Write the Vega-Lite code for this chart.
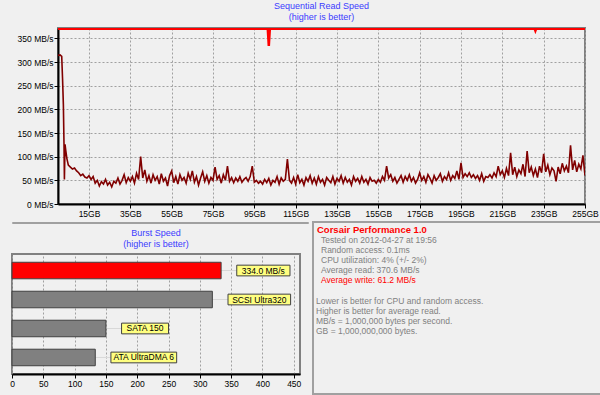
{
  "$schema": "https://vega.github.io/schema/vega-lite/v6.json",
  "background": "#f0f0f0",
  "padding": {"left": 8, "top": 1, "right": 0, "bottom": 0},
  "datasets": {
    "write": [
      {"gb":0,"mbs":314},{"gb":1,"mbs":315},{"gb":1.8,"mbs":312},{"gb":2.2,"mbs":265},{"gb":2.6,"mbs":210},{"gb":2.9,"mbs":128},{"gb":3.1,"mbs":52},{"gb":3.4,"mbs":126},{"gb":3.8,"mbs":112},{"gb":4.3,"mbs":96},{"gb":5,"mbs":82},
      {"gb":6,"mbs":78},{"gb":7,"mbs":74},{"gb":8,"mbs":76},{"gb":9,"mbs":70},{"gb":10,"mbs":66},{"gb":11,"mbs":60},{"gb":12,"mbs":63},{"gb":13,"mbs":57},{"gb":14,"mbs":55},{"gb":15,"mbs":60},
      {"gb":16,"mbs":52},{"gb":17,"mbs":58},{"gb":18,"mbs":44},{"gb":19,"mbs":50},{"gb":20,"mbs":38},{"gb":21,"mbs":47},{"gb":22,"mbs":42},{"gb":23,"mbs":52},{"gb":24,"mbs":40},{"gb":25,"mbs":46},
      {"gb":26,"mbs":36},{"gb":27,"mbs":48},{"gb":28,"mbs":44},{"gb":29,"mbs":55},{"gb":30,"mbs":42},{"gb":31,"mbs":50},{"gb":32,"mbs":62},{"gb":33,"mbs":45},{"gb":34,"mbs":56},{"gb":35,"mbs":48},
      {"gb":36,"mbs":58},{"gb":37,"mbs":44},{"gb":38,"mbs":65},{"gb":39,"mbs":52},{"gb":40,"mbs":100},{"gb":41,"mbs":55},{"gb":42,"mbs":72},{"gb":43,"mbs":48},{"gb":44,"mbs":60},{"gb":45,"mbs":44},
      {"gb":46,"mbs":62},{"gb":47,"mbs":50},{"gb":48,"mbs":58},{"gb":49,"mbs":42},{"gb":50,"mbs":64},{"gb":51,"mbs":48},{"gb":52,"mbs":55},{"gb":53,"mbs":38},{"gb":54,"mbs":60},{"gb":55,"mbs":70},
      {"gb":56,"mbs":45},{"gb":57,"mbs":58},{"gb":58,"mbs":42},{"gb":59,"mbs":62},{"gb":60,"mbs":50},{"gb":61,"mbs":56},{"gb":62,"mbs":44},{"gb":63,"mbs":65},{"gb":64,"mbs":52},{"gb":65,"mbs":70},
      {"gb":66,"mbs":46},{"gb":67,"mbs":58},{"gb":68,"mbs":40},{"gb":69,"mbs":55},{"gb":70,"mbs":68},{"gb":71,"mbs":48},{"gb":72,"mbs":60},{"gb":73,"mbs":44},{"gb":74,"mbs":56},{"gb":75,"mbs":50},
      {"gb":76,"mbs":78},{"gb":77,"mbs":52},{"gb":78,"mbs":60},{"gb":79,"mbs":44},{"gb":80,"mbs":62},{"gb":81,"mbs":50},{"gb":82,"mbs":80},{"gb":83,"mbs":48},{"gb":84,"mbs":56},{"gb":85,"mbs":45},
      {"gb":86,"mbs":55},{"gb":87,"mbs":48},{"gb":88,"mbs":58},{"gb":89,"mbs":46},{"gb":90,"mbs":52},{"gb":91,"mbs":56},{"gb":92,"mbs":48},{"gb":93,"mbs":58},{"gb":94,"mbs":80},{"gb":95,"mbs":46},
      {"gb":96,"mbs":50},{"gb":97,"mbs":44},{"gb":98,"mbs":48},{"gb":99,"mbs":42},{"gb":100,"mbs":52},{"gb":101,"mbs":45},{"gb":102,"mbs":54},{"gb":103,"mbs":40},{"gb":104,"mbs":50},{"gb":105,"mbs":46},
      {"gb":106,"mbs":58},{"gb":107,"mbs":42},{"gb":108,"mbs":55},{"gb":109,"mbs":48},{"gb":110,"mbs":52},{"gb":111,"mbs":95},{"gb":112,"mbs":50},{"gb":113,"mbs":44},{"gb":114,"mbs":56},{"gb":115,"mbs":42},
      {"gb":116,"mbs":62},{"gb":117,"mbs":45},{"gb":118,"mbs":52},{"gb":119,"mbs":40},{"gb":120,"mbs":56},{"gb":121,"mbs":48},{"gb":122,"mbs":60},{"gb":123,"mbs":44},{"gb":124,"mbs":55},{"gb":125,"mbs":42},
      {"gb":126,"mbs":58},{"gb":127,"mbs":46},{"gb":128,"mbs":52},{"gb":129,"mbs":40},{"gb":130,"mbs":56},{"gb":131,"mbs":50},{"gb":132,"mbs":45},{"gb":133,"mbs":58},{"gb":134,"mbs":42},{"gb":135,"mbs":54},
      {"gb":136,"mbs":48},{"gb":137,"mbs":60},{"gb":138,"mbs":44},{"gb":139,"mbs":56},{"gb":140,"mbs":46},{"gb":141,"mbs":52},{"gb":142,"mbs":40},{"gb":143,"mbs":58},{"gb":144,"mbs":48},{"gb":145,"mbs":54},
      {"gb":146,"mbs":44},{"gb":147,"mbs":58},{"gb":148,"mbs":46},{"gb":149,"mbs":52},{"gb":150,"mbs":42},{"gb":151,"mbs":56},{"gb":152,"mbs":48},{"gb":153,"mbs":50},{"gb":154,"mbs":44},{"gb":155,"mbs":52},
      {"gb":156,"mbs":46},{"gb":157,"mbs":58},{"gb":158,"mbs":50},{"gb":159,"mbs":80},{"gb":160,"mbs":55},{"gb":161,"mbs":62},{"gb":162,"mbs":48},{"gb":163,"mbs":56},{"gb":164,"mbs":44},{"gb":165,"mbs":52},
      {"gb":166,"mbs":60},{"gb":167,"mbs":46},{"gb":168,"mbs":58},{"gb":169,"mbs":50},{"gb":170,"mbs":62},{"gb":171,"mbs":48},{"gb":172,"mbs":56},{"gb":173,"mbs":44},{"gb":174,"mbs":52},{"gb":175,"mbs":66},
      {"gb":176,"mbs":50},{"gb":177,"mbs":58},{"gb":178,"mbs":46},{"gb":179,"mbs":62},{"gb":180,"mbs":54},{"gb":181,"mbs":44},{"gb":182,"mbs":60},{"gb":183,"mbs":50},{"gb":184,"mbs":56},{"gb":185,"mbs":64},
      {"gb":186,"mbs":48},{"gb":187,"mbs":58},{"gb":188,"mbs":52},{"gb":189,"mbs":66},{"gb":190,"mbs":50},{"gb":191,"mbs":60},{"gb":192,"mbs":54},{"gb":193,"mbs":70},{"gb":194,"mbs":52},{"gb":195,"mbs":87},
      {"gb":196,"mbs":56},{"gb":197,"mbs":64},{"gb":198,"mbs":58},{"gb":199,"mbs":66},{"gb":200,"mbs":56},{"gb":201,"mbs":62},{"gb":202,"mbs":54},{"gb":203,"mbs":60},{"gb":204,"mbs":50},{"gb":205,"mbs":64},
      {"gb":206,"mbs":48},{"gb":207,"mbs":58},{"gb":208,"mbs":56},{"gb":209,"mbs":62},{"gb":210,"mbs":55},{"gb":211,"mbs":66},{"gb":212,"mbs":58},{"gb":213,"mbs":80},{"gb":214,"mbs":62},{"gb":215,"mbs":70},
      {"gb":216,"mbs":56},{"gb":217,"mbs":75},{"gb":218,"mbs":60},{"gb":219,"mbs":108},{"gb":220,"mbs":62},{"gb":221,"mbs":78},{"gb":222,"mbs":58},{"gb":223,"mbs":72},{"gb":224,"mbs":64},{"gb":225,"mbs":84},
      {"gb":226,"mbs":58},{"gb":227,"mbs":112},{"gb":228,"mbs":66},{"gb":229,"mbs":78},{"gb":230,"mbs":60},{"gb":231,"mbs":74},{"gb":232,"mbs":56},{"gb":233,"mbs":80},{"gb":234,"mbs":66},{"gb":235,"mbs":106},
      {"gb":236,"mbs":68},{"gb":237,"mbs":82},{"gb":238,"mbs":62},{"gb":239,"mbs":76},{"gb":240,"mbs":70},{"gb":241,"mbs":48},{"gb":242,"mbs":78},{"gb":243,"mbs":64},{"gb":244,"mbs":86},{"gb":245,"mbs":70},
      {"gb":246,"mbs":80},{"gb":247,"mbs":66},{"gb":248,"mbs":124},{"gb":249,"mbs":72},{"gb":250,"mbs":92},{"gb":251,"mbs":68},{"gb":252,"mbs":84},{"gb":253,"mbs":74},{"gb":254,"mbs":103},{"gb":255,"mbs":60}
    ],
    "read": [
      {"gb":0,"mbs":370.6},{"gb":101.5,"mbs":370.6},{"gb":102,"mbs":334},{"gb":102.5,"mbs":370.6},{"gb":230.6,"mbs":370.6},{"gb":231,"mbs":366},{"gb":231.4,"mbs":370.6},{"gb":255,"mbs":370.6}
    ],
    "burst": [
      {"name":"Corsair Performance 1.0","speed":334.0,"label":"334.0 MB/s","kind":"tested"},
      {"name":"SCSI Ultra320","speed":320,"label":"SCSI Ultra320","kind":"reference"},
      {"name":"SATA 150","speed":150,"label":"SATA 150","kind":"reference"},
      {"name":"ATA UltraDMA 6","speed":133,"label":"ATA UltraDMA 6","kind":"reference"}
    ],
    "info": [
      {"line":0,"kind":"heading","text":"Corsair Performance 1.0"},
      {"line":1,"kind":"detail","text":"Tested on 2012-04-27 at 19:56"},
      {"line":2,"kind":"detail","text":"Random access: 0.1ms"},
      {"line":3,"kind":"detail","text":"CPU utilization: 4% (+/- 2%)"},
      {"line":4,"kind":"detail","text":"Average read: 370.6 MB/s"},
      {"line":5,"kind":"write","text":"Average write: 61.2 MB/s"},
      {"line":7,"kind":"note","text":"Lower is better for CPU and random access."},
      {"line":8,"kind":"note","text":"Higher is better for average read."},
      {"line":9,"kind":"note","text":"MB/s = 1,000,000 bytes per second."},
      {"line":10,"kind":"note","text":"GB = 1,000,000,000 bytes."}
    ]
  },
  "config": {
    "font": "Liberation Sans",
    "view": {"stroke": "#808080", "strokeWidth": 2},
    "axis": {
      "labelFont": "Liberation Sans", "labelFontSize": 8.5, "labelColor": "#000000",
      "labelFlush": false, "labelOverlap": false,
      "domainColor": "#000000", "domainWidth": 2,
      "tickColor": "#000000", "tickSize": 4, "labelPadding": 1,
      "gridColor": "#a0a0a0", "gridDash": [2, 2], "gridWidth": 1,
      "title": null
    },
    "title": {
      "font": "Liberation Sans", "fontSize": 9, "fontWeight": "normal", "color": "#3c3cff",
      "subtitleFont": "Liberation Sans", "subtitleFontSize": 9, "subtitleColor": "#3c3cff",
      "subtitlePadding": 2, "anchor": "middle"
    }
  },
  "spacing": -3,
  "align": "none",
  "vconcat": [
    {
      "spacing": 3,
      "hconcat": [
        {
          "width": 1, "height": 176,
          "data": {"values": [{}]},
          "mark": {"type": "text", "text": ""},
          "encoding": {},
          "view": {"stroke": null}
        },
        {
          "width": 527, "height": 176,
          "title": {"text": "Sequential Read Speed", "subtitle": "(higher is better)", "offset": 6},
          "encoding": {
            "x": {"field": "gb", "type": "quantitative",
                  "scale": {"domain": [0, 255], "nice": false, "zero": false},
                  "axis": {"values": [15,35,55,75,95,115,135,155,175,195,215,235,255], "labelExpr": "datum.value + 'GB'", "grid": true}},
            "y": {"field": "mbs", "type": "quantitative",
                  "scale": {"domain": [0, 372], "nice": false},
                  "axis": {"values": [0,50,100,150,200,250,300,350], "labelExpr": "datum.value + ' MB/s'", "grid": true}}
          },
          "layer": [
            {"data": {"name": "write"}, "mark": {"type": "line", "color": "#800000", "strokeWidth": 1.6, "clip": true}},
            {"data": {"name": "read"}, "mark": {"type": "line", "color": "#ff0000", "strokeWidth": 2.5, "clip": true}}
          ]
        }
      ]
    },
    {
      "spacing": 3,
      "hconcat": [
        {
          "spacing": 0,
          "vconcat": [
            {
              "width": 296, "height": 1,
              "data": {"values": [{}]},
              "mark": {"type": "text", "text": ""},
              "encoding": {},
              "view": {"stroke": "#a0a0a0", "strokeWidth": 1}
            },
            {
              "width": 288, "height": 120,
              "title": {"text": "Burst Speed", "subtitle": "(higher is better)", "offset": 5},
              "data": {"name": "burst"},
              "transform": [
                {"calculate": "datum.speed + 25", "as": "bx"},
                {"calculate": "datum.speed + 60 + length(datum.label) * 5", "as": "bx2"},
                {"calculate": "(datum.bx + datum.bx2) / 2", "as": "bxm"}
              ],
              "encoding": {
                "y": {"field": "name", "type": "nominal", "sort": null, "axis": null,
                      "scale": {"paddingInner": 0, "paddingOuter": 0.07}}
              },
              "layer": [
                {
                  "mark": {"type": "rule", "color": "#d8d8d8", "strokeWidth": 1},
                  "encoding": {
                    "x": {"field": "speed", "type": "quantitative",
                          "scale": {"domain": [0, 460], "nice": false},
                          "axis": {"values": [0,50,100,150,200,250,300,350,400,450], "grid": true}},
                    "x2": {"field": "bx"}
                  }
                },
                {
                  "mark": {"type": "bar", "height": {"band": 0.57}, "stroke": "#404040", "strokeWidth": 1},
                  "encoding": {
                    "x": {"field": "speed", "type": "quantitative",
                          "axis": {"values": [0,50,100,150,200,250,300,350,400,450], "grid": true}},
                    "color": {"field": "kind", "type": "nominal", "legend": null,
                              "scale": {"domain": ["tested", "reference"], "range": ["#ff0000", "#808080"]}}
                  }
                },
                {
                  "mark": {"type": "bar", "height": {"band": 0.37}, "color": "#ffff80", "stroke": "#404040", "strokeWidth": 1},
                  "encoding": {
                    "x": {"field": "bx", "type": "quantitative",
                          "axis": {"values": [0,50,100,150,200,250,300,350,400,450], "grid": true}},
                    "x2": {"field": "bx2"}
                  }
                },
                {
                  "mark": {"type": "text", "fontSize": 8.5, "color": "#000000", "align": "center", "baseline": "middle"},
                  "encoding": {
                    "x": {"field": "bxm", "type": "quantitative",
                          "axis": {"values": [0,50,100,150,200,250,300,350,400,450], "grid": true}},
                    "text": {"field": "label"}
                  }
                }
              ]
            }
          ]
        },
        {
          "width": 288, "height": 172,
          "view": {"stroke": "#a0a0a0", "strokeWidth": 2},
          "data": {"name": "info"},
          "encoding": {
            "x": {"datum": 0, "type": "quantitative", "scale": {"domain": [0, 288], "nice": false}, "axis": null},
            "y": {"field": "line", "type": "quantitative", "scale": {"domain": [-0.79, 16.24], "nice": false, "zero": false, "reverse": true}, "axis": null},
            "text": {"field": "text"},
            "color": {"field": "kind", "type": "nominal", "legend": null,
                      "scale": {"domain": ["heading", "detail", "write", "note"], "range": ["#ff0000", "#000000", "#a52a2a", "#000000"]}}
          },
          "layer": [
            {"transform": [{"filter": "datum.kind == 'heading'"}],
             "mark": {"type": "text", "align": "left", "baseline": "middle", "fontSize": 9.5, "fontWeight": "bold", "dx": 4}},
            {"transform": [{"filter": "datum.kind == 'detail' || datum.kind == 'write'"}],
             "mark": {"type": "text", "align": "left", "baseline": "middle", "fontSize": 8.5, "dx": 8}},
            {"transform": [{"filter": "datum.kind == 'note'"}],
             "mark": {"type": "text", "align": "left", "baseline": "middle", "fontSize": 8.5, "dx": 3}}
          ]
        }
      ]
    }
  ]
}
